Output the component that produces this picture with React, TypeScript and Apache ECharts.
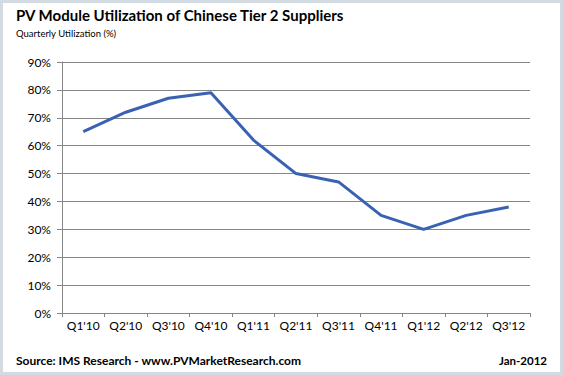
import React, { useEffect, useRef } from "react";
import * as echarts from "echarts";

const categories = ["Q1'10", "Q2'10", "Q3'10", "Q4'10", "Q1'11", "Q2'11", "Q3'11", "Q4'11", "Q1'12", "Q2'12", "Q3'12"];
const utilization = [65, 72, 77, 79, 62, 50, 47, 35, 30, 35, 38];
const titleText = "PV Module Utilization of Chinese Tier 2 Suppliers";
const subtitleText = "Quarterly Utilization (%)";
const sourceText = "Source: IMS Research - www.PVMarketResearch.com";
const dateText = "Jan-2012";

const FONT = "Lato";

export default function App() {
  const ref = useRef<HTMLDivElement>(null);
  useEffect(() => {
    document.body.style.margin = "0";
    const chart = echarts.init(ref.current!, null, { renderer: "svg" });
    chart.setOption({
      animation: false,
      backgroundColor: "#ffffff",
      textStyle: { fontFamily: FONT },
      grid: { left: 62, right: 33, top: 62, bottom: 62, containLabel: false },
      xAxis: {
        type: "category",
        data: categories,
        boundaryGap: true,
        axisLine: { lineStyle: { color: "#868686", width: 1 } },
        axisTick: { show: true, length: 4, alignWithLabel: false, lineStyle: { color: "#868686" } },
        axisLabel: { color: "#000", fontSize: 12, fontFamily: FONT, margin: 6, interval: 0 },
        splitLine: { show: false },
      },
      yAxis: {
        type: "value",
        min: 0,
        max: 90,
        interval: 10,
        axisLine: { show: true, lineStyle: { color: "#868686", width: 1 } },
        axisTick: { show: true, length: 5, inside: false, lineStyle: { color: "#868686" } },
        axisLabel: { color: "#000", fontSize: 12, fontFamily: FONT, margin: 11, formatter: "{value}%" },
        splitLine: { show: true, lineStyle: { color: "#868686", width: 1 } },
      },
      series: [
        {
          type: "line",
          data: utilization,
          symbol: "none",
          lineStyle: { color: "#3A62B2", width: 3 },
          itemStyle: { color: "#3A62B2" },
        },
      ],
      graphic: [
        {
          type: "rect",
          shape: { x: 1.5, y: 1.5, width: 560, height: 372 },
          style: { fill: "none", stroke: "#d2dae2", lineWidth: 3 },
          silent: true,
        },
        {
          type: "text",
          left: 16,
          top: 7,
          style: { text: titleText, fontSize: 15, fontWeight: "bold", fontFamily: FONT, fill: "#000" },
        },
        {
          type: "text",
          left: 16,
          top: 28,
          style: { text: subtitleText, fontSize: 9.5, fontFamily: FONT, fill: "#000" },
        },
        {
          type: "text",
          left: 16,
          top: 354,
          style: { text: sourceText, fontSize: 12, fontWeight: "bold", fontFamily: FONT, fill: "#000" },
        },
        {
          type: "text",
          right: 16,
          top: 354,
          style: { text: dateText, fontSize: 11.5, fontWeight: "bold", fontFamily: FONT, fill: "#000" },
        },
      ],
    });
    return () => chart.dispose();
  }, []);
  return <div ref={ref} style={{ width: 563, height: 375 }} />;
}
